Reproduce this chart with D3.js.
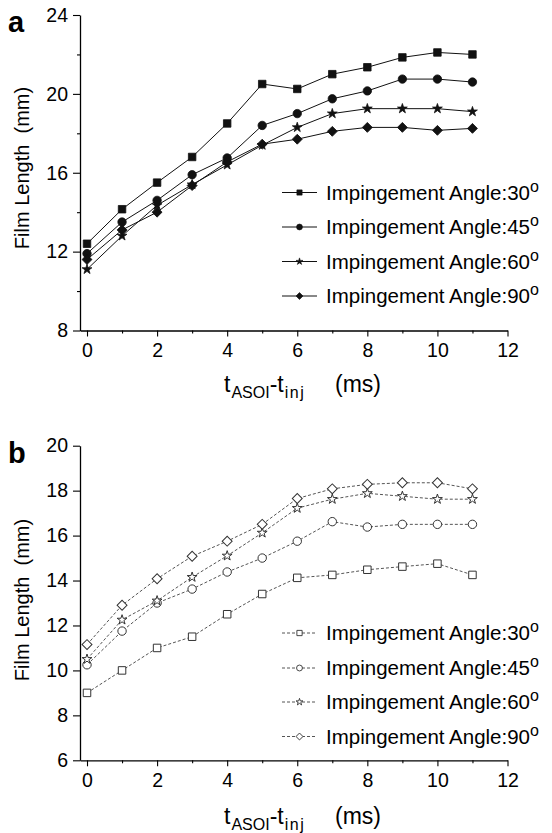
<!DOCTYPE html>
<html>
<head>
<meta charset="utf-8">
<script src="https://cdn.jsdelivr.net/npm/d3@7"></script>
<style>
  html, body { margin: 0; padding: 0; background: #fff; }
  svg { display: block; font-family: "Liberation Sans", Arial, sans-serif; }
</style>
</head>
<body>
<svg id="chart" width="552" height="833"></svg>
<script>
// ---------- data ----------
const xValues = [0, 1, 2, 3, 4, 5, 6, 7, 8, 9, 10, 11];
const seriesNames = ["Impingement Angle:30", "Impingement Angle:45", "Impingement Angle:60", "Impingement Angle:90"];

// panel a
const a30 = [12.4, 14.15, 15.5, 16.8, 18.5, 20.5, 20.25, 21.0, 21.35, 21.85, 22.1, 22.0];
const a45 = [11.9, 13.5, 14.6, 15.9, 16.75, 18.4, 19.0, 19.75, 20.15, 20.75, 20.75, 20.6];
const a60 = [11.1, 12.8, 14.35, 15.4, 16.4, 17.4, 18.3, 19.0, 19.25, 19.25, 19.25, 19.1];
const a90 = [11.6, 13.1, 14.0, 15.35, 16.55, 17.45, 17.7, 18.1, 18.3, 18.3, 18.15, 18.25];

// panel b
const b30 = [9.0, 10.0, 11.0, 11.5, 12.5, 13.4, 14.12, 14.25, 14.48, 14.62, 14.75, 14.25];
const b45 = [10.25, 11.75, 13.0, 13.62, 14.38, 15.0, 15.75, 16.62, 16.38, 16.5, 16.5, 16.5];
const b60 = [10.5, 12.25, 13.1, 14.15, 15.1, 16.12, 17.22, 17.62, 17.88, 17.75, 17.62, 17.62];
const b90 = [11.15, 12.9, 14.08, 15.08, 15.75, 16.5, 17.65, 18.08, 18.28, 18.35, 18.35, 18.08];

const xTicks = [0, 2, 4, 6, 8, 10, 12];
const xMinorTicks = [1, 3, 5, 7, 9, 11];
const aYTicks = [8, 12, 16, 20, 24];
const aYMinorTicks = [10, 14, 18, 22];
const bYTicks = [6, 8, 10, 12, 14, 16, 18, 20];

// ---------- drawing ----------
const svg = d3.select("#chart");
const FONT = 19.5;
const LEGEND_FONT = 20.5;

const symbolTypes = ["square", "circle", "star", "diamond"];
function symbolPath(type, scale) {
  let sym, size;
  if (type === "square") { sym = d3.symbolSquare; size = Math.pow(7.5 * scale, 2); }
  else if (type === "circle") { sym = d3.symbolCircle; size = Math.PI * Math.pow(4.2 * scale, 2); }
  else if (type === "star") { sym = d3.symbolStar; size = 30 * scale * scale; }
  else { sym = d3.symbolSquare; size = Math.pow(7.0 * scale, 2); }
  return d3.symbol().type(sym).size(size)();
}
function symbolTransform(type, cx, cy) {
  return `translate(${cx},${cy})` + (type === "diamond" ? " rotate(45)" : "");
}

function drawPanel(cfg) {
  const g = svg.append("g");
  const x = d3.scaleLinear().domain([-0.2, 12]).range([80, 507.5]);
  const y = d3.scaleLinear().domain(cfg.yDomain).range(cfg.yRange);
  const y0 = cfg.yRange[0];

  // x axis
  g.append("g").attr("transform", `translate(0,${y0})`)
    .call(d3.axisBottom(x).tickValues(xTicks).tickSize(6).tickSizeOuter(0).tickPadding(7));
  g.append("g").attr("transform", `translate(0,${y0})`)
    .call(d3.axisBottom(x).tickValues(xMinorTicks).tickSize(3).tickFormat(""))
    .call(s => s.select(".domain").remove());

  // y axis
  g.append("g").attr("transform", `translate(80,0)`)
    .call(d3.axisLeft(y).tickValues(cfg.yTicks).tickSize(7).tickSizeOuter(0).tickPadding(5));
  if (cfg.yMinor.length) {
    g.append("g").attr("transform", `translate(80,0)`)
      .call(d3.axisLeft(y).tickValues(cfg.yMinor).tickSize(3).tickFormat(""))
      .call(s => s.select(".domain").remove());
  }
  g.selectAll(".domain").attr("stroke", "#000").attr("stroke-width", 1.3);
  g.selectAll(".tick line").attr("stroke", "#000").attr("stroke-width", 1.1);
  g.selectAll(".tick text").attr("font-size", FONT).attr("font-family", "Liberation Sans, Arial, sans-serif").attr("fill", "#000");

  // lines + markers
  const line = d3.line().x((d, i) => x(xValues[i])).y(d => y(d));
  cfg.series.forEach((vals) => {
    g.append("path").datum(vals)
      .attr("d", line)
      .attr("fill", "none")
      .attr("stroke", cfg.open ? "#555" : "#111")
      .attr("stroke-width", 1)
      .attr("stroke-dasharray", cfg.open ? "3,2" : null);
  });
  cfg.series.forEach((vals, si) => {
    const type = symbolTypes[si];
    g.selectAll(null).data(vals).enter().append("path")
      .attr("d", symbolPath(type, 1))
      .attr("transform", (d, i) => symbolTransform(type, x(xValues[i]), y(d)))
      .attr("fill", cfg.open ? "#fff" : "#111")
      .attr("stroke", cfg.open ? "#333" : "#111")
      .attr("stroke-width", cfg.open ? 1 : 0.8);
  });

  // legend
  cfg.legendY.forEach((ly, si) => {
    const type = symbolTypes[si];
    g.append("line").attr("x1", 282).attr("x2", 317).attr("y1", ly).attr("y2", ly)
      .attr("stroke", cfg.open ? "#555" : "#111").attr("stroke-width", 1)
      .attr("stroke-dasharray", cfg.open ? "3,2" : null);
    g.append("path").attr("d", symbolPath(type, 0.7))
      .attr("transform", symbolTransform(type, 299.5, ly))
      .attr("fill", cfg.open ? "#fff" : "#111")
      .attr("stroke", cfg.open ? "#333" : "#111").attr("stroke-width", cfg.open ? 0.9 : 0.6);
    const t = g.append("text").attr("x", 326).attr("y", ly + 7)
      .attr("font-size", LEGEND_FONT).attr("fill", "#000");
    t.append("tspan").text(seriesNames[si]);
    t.append("tspan").attr("font-size", 16).attr("dy", -8).text("o");
  });

  // axis titles
  const xt = g.append("text").attr("x", 224).attr("y", cfg.xTitleY).attr("font-size", 23).attr("fill", "#000");
  xt.append("tspan").text("t");
  xt.append("tspan").attr("font-size", 16).attr("dy", 6).attr("dx", 1).text("ASOI");
  xt.append("tspan").attr("dy", -6).text("-t");
  xt.append("tspan").attr("font-size", 16).attr("dy", 6).attr("dx", 1).attr("letter-spacing", 1.5).text("inj");
  g.append("text").attr("x", 335).attr("y", cfg.xTitleY).attr("font-size", 23).attr("fill", "#000").text("(ms)");

  g.append("text")
    .attr("transform", `translate(29,${cfg.yTitleC}) rotate(-90)`)
    .attr("text-anchor", "middle").attr("font-size", 20).attr("fill", "#000")
    .style("white-space", "pre")
    .text("Film Length  (mm)");

  g.append("text").attr("x", 8).attr("y", cfg.labelY).attr("font-size", 29)
    .attr("font-weight", "bold").attr("fill", "#000").text(cfg.label);
}

drawPanel({
  label: "a", labelY: 32,
  yDomain: [8, 24], yRange: [330.5, 15],
  yTicks: aYTicks, yMinor: aYMinorTicks,
  series: [a30, a45, a60, a90], open: false,
  legendY: [192.5, 227, 261.5, 296],
  xTitleY: 392, yTitleC: 168
});

drawPanel({
  label: "b", labelY: 463,
  yDomain: [6, 20], yRange: [760.3, 445.7],
  yTicks: bYTicks, yMinor: [],
  series: [b30, b45, b60, b90], open: true,
  legendY: [633, 668, 702, 736.5],
  xTitleY: 824, yTitleC: 600
});
</script>
</body>
</html>
